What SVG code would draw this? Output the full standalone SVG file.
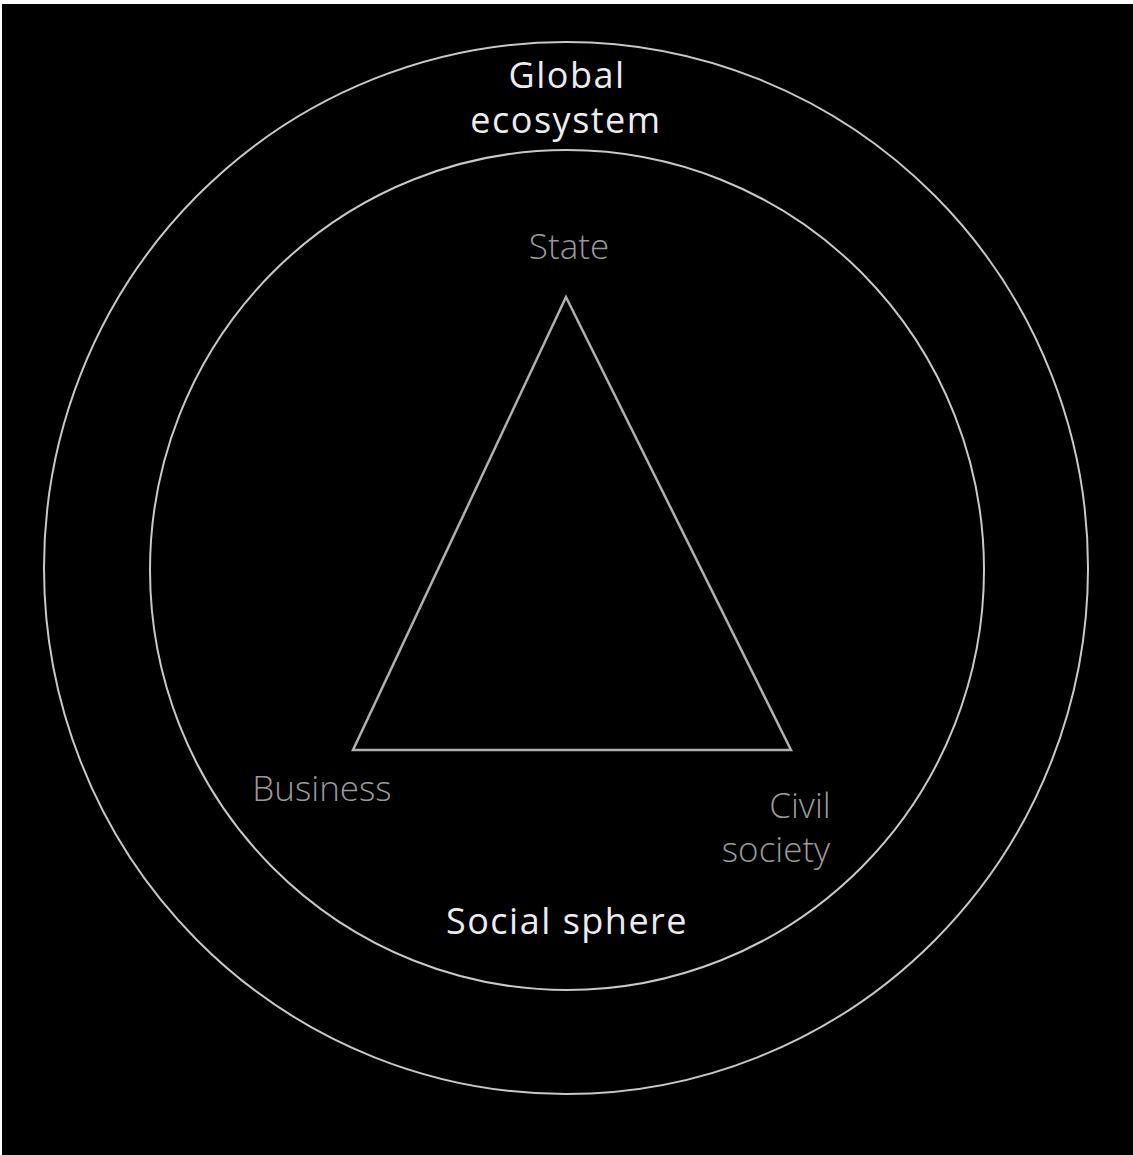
<svg xmlns="http://www.w3.org/2000/svg" width="1133" height="1155" viewBox="0 0 1133 1155">
<style>
.ring{fill:none;stroke:#c8c8c8;stroke-width:2}
.tri{fill:none;stroke:#b0b0b0;stroke-width:2.5}
text{font-family:"Open Sans","Noto Sans","DejaVu Sans",sans-serif;text-anchor:middle}
.main{fill:#ececec;font-size:36px;letter-spacing:1.5px}
.node{fill:#9a9a9a;font-size:35px;font-weight:300}
</style>
<rect x="0" y="0" width="1133" height="1155" fill="#ffffff"/>
<rect x="2" y="4" width="1131" height="1151" fill="#000000"/>
<g id="global-ecosystem">
<ellipse class="ring" cx="566" cy="568" rx="522" ry="526"/>
<text class="main" x="567" y="88">Global</text>
<text class="main" x="566" y="133">ecosystem</text>
</g>
<g id="social-sphere">
<ellipse class="ring" cx="567" cy="570" rx="417" ry="420"/>
<text class="main" x="567" y="934">Social sphere</text>
</g>
<g id="connectors">
<polygon class="tri" points="566,297 353,750 791,750"/>
</g>
<g id="state"><text class="node" x="569" y="259">State</text></g>
<g id="business"><text class="node" x="322" y="801">Business</text></g>
<g id="civil-society"><text class="node" x="800" y="818">Civil</text><text class="node" x="776" y="862">society</text></g>
</svg>
